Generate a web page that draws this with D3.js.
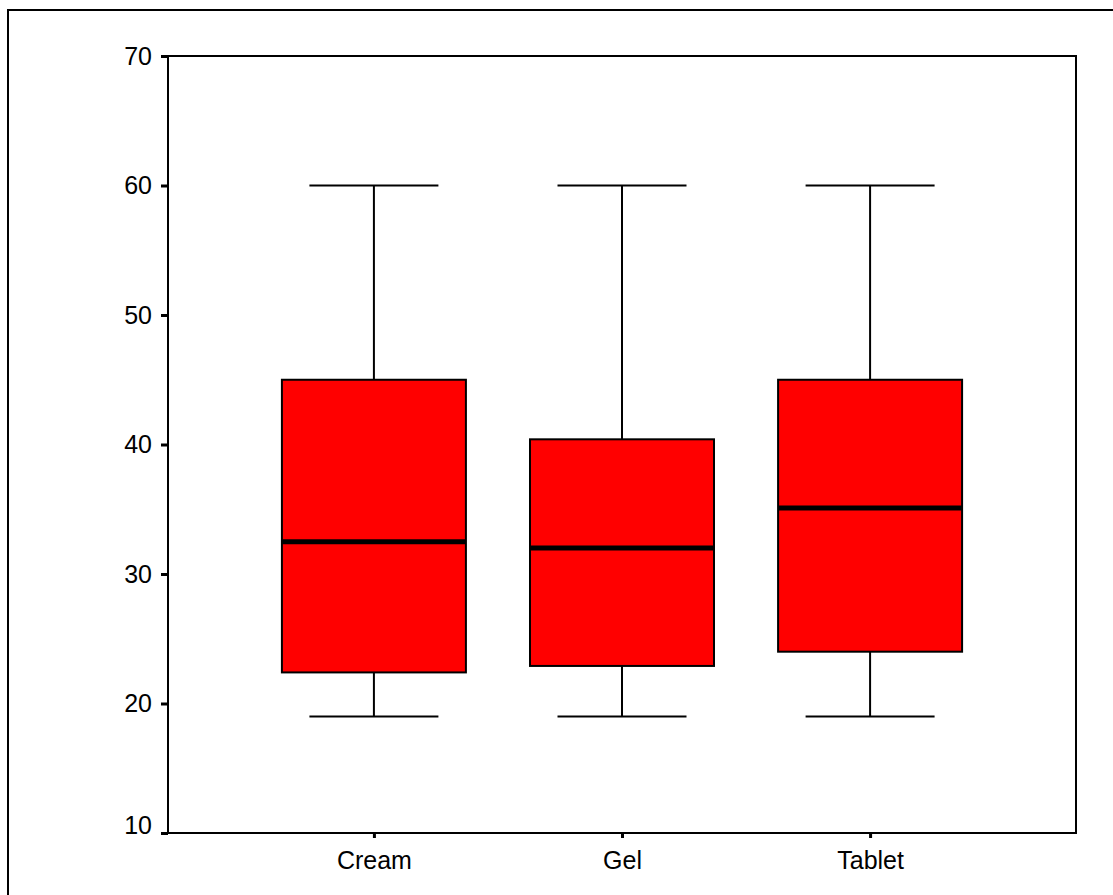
<!DOCTYPE html>
<html>
<head>
<meta charset="utf-8">
<script src="https://cdn.jsdelivr.net/npm/d3@7"></script>
<style>
  body { margin: 0; background: #fff; }
  svg { display: block; }
  text { font-family: Arial, "Liberation Sans", sans-serif; }
</style>
</head>
<body>
<svg id="chart" width="1113" height="895"></svg>
<script>
// data
const categories = ["Cream", "Gel", "Tablet"];
const whiskerLow = [19, 19, 19];
const q1 = [22.4, 22.9, 24.0];
const median = [32.5, 32.0, 35.1];
const q3 = [45.0, 40.4, 45.0];
const whiskerHigh = [60, 60, 60];
const yTicks = [10, 20, 30, 40, 50, 60, 70];

const rows = categories.map((c, i) => ({
    name: c, lo: whiskerLow[i], q1: q1[i], med: median[i], q3: q3[i], hi: whiskerHigh[i]
}));

const svg = d3.select('#chart');

// outer frame, only left + top show in the picture
svg.append('rect')
    .attr('x', 8).attr('y', 10)
    .attr('width', 1300).attr('height', 1000)
    .attr('fill', 'none')
    .attr('stroke', 'black')
    .attr('stroke-width', 2);

const plotL = 168, plotR = 1076, plotT = 56, plotB = 833;

let y = d3.scaleLinear().domain([10, 70]).range([plotB, plotT]);
let x = d3.scalePoint().domain(categories).range([plotL, plotR]).padding(0.83);

const boxW = 184, capW = 129;

// plot frame
svg.append('rect')
    .attr('x', plotL).attr('y', plotT)
    .attr('width', plotR - plotL).attr('height', plotB - plotT)
    .attr('fill', 'none')
    .attr('stroke', 'black')
    .attr('stroke-width', 2);

// y axis ticks + labels
const yAxis = d3.axisLeft(y).tickValues(yTicks).tickSize(7).tickPadding(9);
const gy = svg.append('g').attr('transform', `translate(${plotL},0)`).call(yAxis);
gy.select('.domain').remove();
gy.selectAll('.tick line').attr('stroke', 'black').attr('stroke-width', 3);
gy.selectAll('.tick text')
    .attr('font-size', 25)
    .attr('fill', 'black')
    .attr('dy', d => d == 10 ? '0' : '0.32em'); // bottom label sits above its tick

// x axis ticks + labels
const xAxis = d3.axisBottom(x).tickSize(5).tickPadding(13);
const gx = svg.append('g').attr('transform', `translate(0,${plotB})`).call(xAxis);
gx.select('.domain').remove();
gx.selectAll('.tick line').attr('stroke', 'black').attr('stroke-width', 3);
gx.selectAll('.tick text').attr('font-size', 25).attr('fill', 'black');

const boxes = svg.append('g').selectAll('g')
    .data(rows)
    .enter()
    .append('g');

// whiskers
boxes.append('line')
    .attr('x1', d => x(d.name)).attr('x2', d => x(d.name))
    .attr('y1', d => y(d.hi)).attr('y2', d => y(d.q3))
    .attr('stroke', 'black').attr('stroke-width', 2);
boxes.append('line')
    .attr('x1', d => x(d.name)).attr('x2', d => x(d.name))
    .attr('y1', d => y(d.q1)).attr('y2', d => y(d.lo))
    .attr('stroke', 'black').attr('stroke-width', 2);

// caps
for (let k of ['hi', 'lo']) {
    boxes.append('line')
        .attr('x1', d => x(d.name) - capW / 2).attr('x2', d => x(d.name) + capW / 2)
        .attr('y1', d => y(d[k])).attr('y2', d => y(d[k]))
        .attr('stroke', 'black').attr('stroke-width', 2);
}

// box
boxes.append('rect')
    .attr('x', d => x(d.name) - boxW / 2)
    .attr('y', d => y(d.q3))
    .attr('width', boxW)
    .attr('height', d => y(d.q1) - y(d.q3))
    .attr('fill', '#ff0000')
    .attr('stroke', 'black')
    .attr('stroke-width', 2);

// median
boxes.append('line')
    .attr('x1', d => x(d.name) - boxW / 2).attr('x2', d => x(d.name) + boxW / 2)
    .attr('y1', d => y(d.med)).attr('y2', d => y(d.med))
    .attr('stroke', 'black').attr('stroke-width', 5);
</script>
</body>
</html>
